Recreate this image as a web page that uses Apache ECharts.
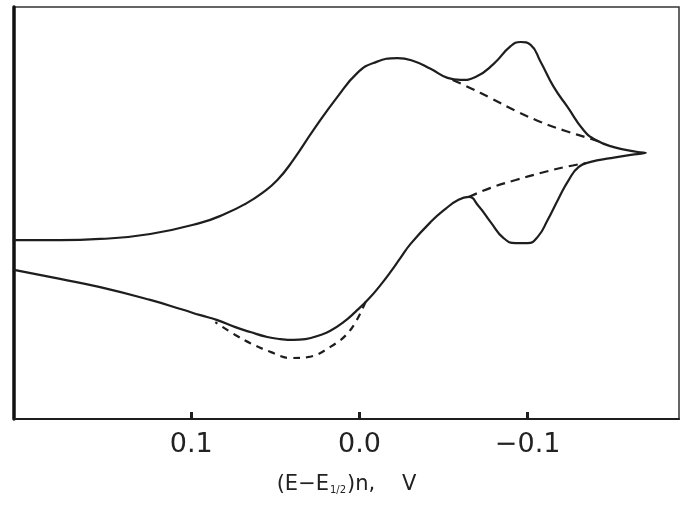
<!DOCTYPE html>
<html>
<head>
<meta charset="utf-8">
<script src="https://cdn.jsdelivr.net/npm/echarts@6/dist/echarts.min.js"></script>
<style>html,body{margin:0;padding:0;background:#fff}#c{width:680px;height:505px}</style>
</head>
<body>
<div id="c"></div>
<script>
// Potential (E - E1/2)n in V, current in arbitrary units
var solidPotential = [0.2054,0.178,0.1542,0.1244,0.0946,0.0798,0.0679,0.0577,0.0488,0.0393,0.0274,0.0131,0.0012,-0.0083,-0.0226,-0.0321,-0.0423,-0.0524,-0.0601,-0.069,-0.0798,-0.0899,-0.0958,-0.1018,-0.1077,-0.1155,-0.1238,-0.1333,-0.1405,-0.1512,-0.1655,-0.1702,
  -0.1613,-0.1494,-0.1375,-0.1304,-0.1244,-0.1185,-0.1119,-0.106,-0.1,-0.0929,-0.0857,-0.078,-0.0708,-0.0649,-0.0589,-0.0512,-0.0423,-0.0304,-0.0244,-0.0185,-0.0125,-0.0054,0.0024,0.0095,0.0173,0.0232,0.0321,0.0393,0.047,0.0548,0.0649,0.0738,0.0845,0.0946,0.1048,0.1244,0.1542,0.178,0.2054];
var solidCurrent = [43.4,43.4,43.7,44.9,47.6,49.8,52.2,54.9,58.0,62.9,70.1,78.2,84.0,86.4,87.6,86.9,85.0,82.8,82.3,83.0,86.2,90.5,91.5,90.8,86.7,80.6,75.7,70.1,67.7,66.0,64.8,64.6,
  64.1,63.3,62.4,61.2,58.0,53.6,48.3,44.2,42.7,42.7,43.9,47.8,51.7,53.9,53.2,51.0,47.8,42.5,39.1,35.7,32.5,29.1,26.0,23.5,21.4,20.4,19.4,19.2,19.4,19.9,21.1,22.3,24.0,25.2,26.5,28.9,32.0,34.0,36.2];

var dashUpperPotential = [-0.0554,-0.0661,-0.078,-0.0929,-0.1077,-0.1226,-0.1345,-0.1435];
var dashUpperCurrent   = [82.3,80.3,77.9,74.8,72.1,69.9,68.4,67.2];

var dashMidPotential = [-0.0649,-0.078,-0.0929,-0.1077,-0.1226,-0.1345];
var dashMidCurrent   = [53.9,56.1,58.0,59.7,61.2,62.1];

var dashLowerPotential = [-0.0036,0.0054,0.0173,0.031,0.0411,0.053,0.0649,0.0738,0.0857];
var dashLowerCurrent   = [28.4,21.6,17.5,15.0,14.8,16.3,18.4,20.4,23.5];

var tickValues = [0.1, 0.0, -0.1];
var tickLabels = ['0.1', '0.0', '\u22120.1'];

function pairs(xs, ys){ return xs.map(function(x,i){ return [x, ys[i]]; }); }

var ink = '#1e1e1e';
var chart = echarts.init(document.getElementById('c'), null, {renderer:'canvas'});
chart.setOption({
  animation: false,
  backgroundColor: '#fff',
  grid: {left: 14, right: 1, top: 7, bottom: 86, show: true, borderColor: '#333', borderWidth: 1.5},
  xAxis: [{
    type: 'value', inverse: true, min: -0.19, max: 0.2054,
    splitLine: {show: false},
    axisLine: {show: true, onZero: false, lineStyle: {color: ink, width: 2}},
    axisTick: {show: true, inside: true, length: 7, customValues: tickValues, lineStyle: {color: ink, width: 3}},
    axisLabel: {customValues: tickValues, margin: 12, color: '#222', fontSize: 27, fontFamily: 'DejaVu Sans',
      formatter: function(v){ var k = tickValues.findIndex(function(t){ return Math.abs(t - v) < 1e-9; }); return k >= 0 ? tickLabels[k] : ''; }},
    name: '{a|(E\u2212E}{s|1/2}{a|)n,    V}',
    nameLocation: 'middle', nameGap: 55,
    nameTextStyle: {rich: {a: {fontSize: 21, fontFamily: 'DejaVu Sans', color: '#222'}, s: {fontSize: 10, fontFamily: 'DejaVu Sans', color: '#222', verticalAlign: 'bottom', padding: [8,1,0,1]}}}
  }],
  yAxis: [{
    type: 'value', min: 0, max: 100,
    splitLine: {show: false},
    axisLine: {show: true, onZero: false, lineStyle: {color: '#111', width: 3.5}},
    axisTick: {show: false}, axisLabel: {show: false}
  }],
  series: [
    {type: 'line', data: pairs(solidPotential, solidCurrent), smooth: 0.5, symbol: 'none', lineStyle: {color: ink, width: 2.2}},
    {type: 'line', data: pairs(dashUpperPotential, dashUpperCurrent), smooth: 0.4, symbol: 'none', lineStyle: {color: ink, width: 2.2, type: [9,6]}},
    {type: 'line', data: pairs(dashMidPotential, dashMidCurrent), smooth: 0.4, symbol: 'none', lineStyle: {color: ink, width: 2.2, type: [9,6]}},
    {type: 'line', data: pairs(dashLowerPotential, dashLowerCurrent), smooth: 0.4, symbol: 'none', lineStyle: {color: ink, width: 2.2, type: [7,6]}}
  ]
});
</script>
</body>
</html>
